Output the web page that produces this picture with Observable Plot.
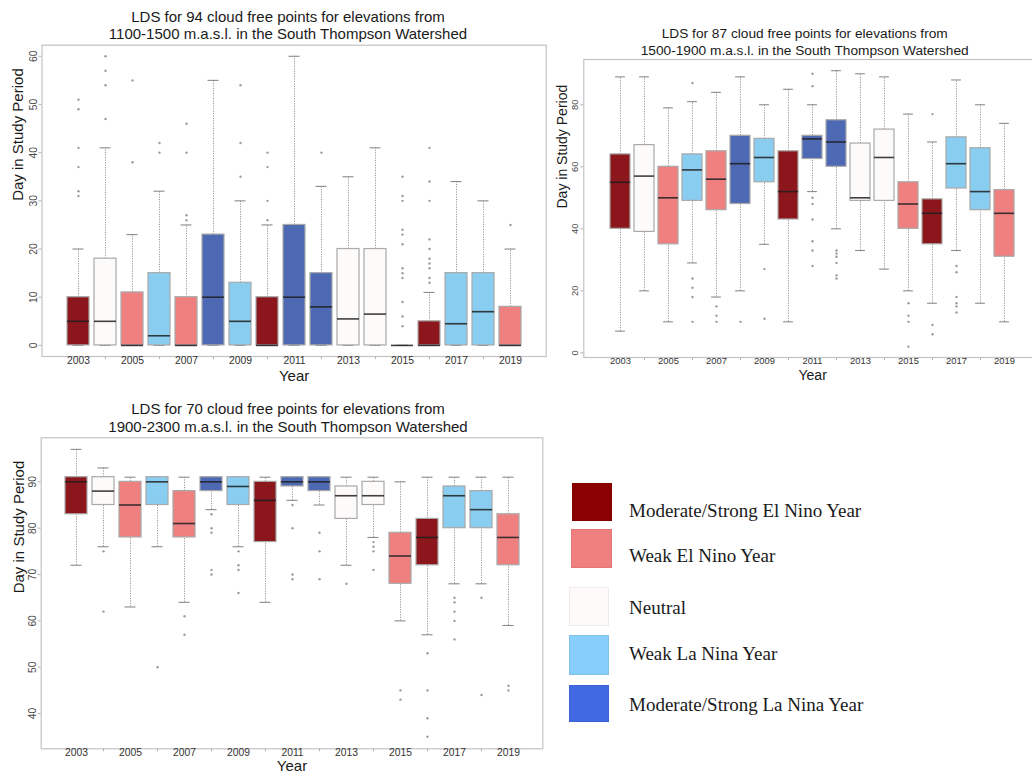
<!DOCTYPE html>
<html>
<head>
<meta charset="utf-8">
<script src="https://cdn.jsdelivr.net/npm/d3@7"></script>
<script src="https://cdn.jsdelivr.net/npm/@observablehq/plot@0.6"></script>
<style>
  html, body { margin: 0; padding: 0; background: #fff; overflow: hidden; }
  #page { position: relative; width: 1032px; height: 776px; overflow: hidden;
          font-family: "Liberation Sans", Arial, sans-serif; }
  .title { position: absolute; text-align: center; color: #1a1a1a; white-space: nowrap; }
  .panel { position: absolute; }
  .panel svg { max-width: none; }
  .swatch { position: absolute; box-sizing: border-box; border: 1px solid rgba(0,0,0,0.06); }
  .legend-label { position: absolute; font-family: "Liberation Serif", "Times New Roman", serif;
                  font-size: 19px; line-height: 22px; color: #1a1a1a; white-space: nowrap; }
</style>
</head>
<body>
<div id="page"></div>
<script>
// Years of the study period and their ENSO classification
const years = [2003, 2004, 2005, 2006, 2007, 2008, 2009, 2010, 2011, 2012, 2013, 2014, 2015, 2016, 2017, 2018, 2019];
const oddYears = [2003, 2005, 2007, 2009, 2011, 2013, 2015, 2017, 2019];
const evenYears = [2004, 2006, 2008, 2010, 2012, 2014, 2016, 2018];
const enso = [
  "Moderate/Strong El Nino Year", "Neutral", "Weak El Nino Year", "Weak La Nina Year",
  "Weak El Nino Year", "Moderate/Strong La Nina Year", "Weak La Nina Year", "Moderate/Strong El Nino Year",
  "Moderate/Strong La Nina Year", "Moderate/Strong La Nina Year", "Neutral", "Neutral",
  "Weak El Nino Year", "Moderate/Strong El Nino Year", "Weak La Nina Year", "Weak La Nina Year",
  "Weak El Nino Year"
];
const categories = ["Moderate/Strong El Nino Year", "Weak El Nino Year", "Neutral", "Weak La Nina Year", "Moderate/Strong La Nina Year"];
const boxColors = ["#8B161B", "#F08080", "#FDFBFA", "#89CDF1", "#4E69B3"];
const legendColors = ["#8B0000", "#F08080", "#FFFAFA", "#87CEFA", "#4169E1"];

// 1100-1500 m.a.s.l. (94 points): whisker ends, quartiles, medians, outliers
const lo1  = [0, 0, 0, 0, 0, 0, 0, 0, 0, 0, 0, 0, 0, 0, 0, 0, 0];
const q1_1 = [0, 0, 0, 0, 0, 0, 0, 0, 0, 0, 0, 0, 0, 0, 0, 0, 0];
const med1 = [5, 5, 0, 2, 0, 10, 5, 0, 10, 8, 5.5, 6.5, 0, 0, 4.5, 7, 0];
const q3_1 = [10, 18, 11, 15, 10, 23, 13, 10, 25, 15, 20, 20, 0, 5, 15, 15, 8];
const hi1  = [20, 41, 23, 32, 25, 55, 30, 25, 60, 33, 35, 41, 0, 11, 34, 30, 20];
const out1 = [
  [51, 49, 41, 37, 32, 31], [60, 57, 54, 47], [55, 38], [42, 40], [46, 40, 27, 26], [],
  [54, 42, 35], [40, 37, 30, 26], [], [40], [], [],
  [35, 31, 30, 24, 23, 21, 16, 15, 14, 9, 6, 4], [41, 34, 30, 22, 20, 18, 17, 16, 14, 13], [], [], [25]
];

// 1500-1900 m.a.s.l. (87 points)
const lo2  = [7, 20, 10, 29, 18, 20, 35, 10, 52, 40, 33, 27, 20, 16, 33, 16, 10];
const q1_2 = [40, 39, 35, 49, 46, 48, 55, 43, 62.5, 60, 49, 49, 40, 35, 53, 46, 31];
const med2 = [55, 57, 50, 59, 56, 61, 63, 52, 69, 68, 50, 63, 48, 45, 61, 52, 45];
const q3_2 = [64, 67, 60, 64, 65, 70, 69, 65, 70, 75, 67.5, 72, 55, 49.5, 69.5, 66, 52.5];
const hi2  = [89, 89, 79, 81, 84, 89, 80, 85, 80, 91, 90, 89, 77, 68, 88, 80, 74];
const out2 = [
  [], [], [], [87, 24, 21, 18, 10], [15, 12, 10], [10], [27, 11], [],
  [90, 86, 50, 48, 43, 36, 33, 28], [33, 32, 31, 29, 25, 24], [], [],
  [16, 12, 10, 2], [77, 9, 6], [28, 26, 18, 16, 15, 13], [], []
];

// 1900-2300 m.a.s.l. (70 points)
const lo3  = [72, 76, 63, 76, 64, 84, 76, 64, 86, 85, 72, 78, 60, 57, 68, 68, 59];
const q1_3 = [83, 85, 78, 85, 78, 88, 85, 77, 89, 88, 82, 85, 68, 72, 80, 80, 72];
const med3 = [90, 88, 85, 90, 81, 90, 89, 86, 90, 90, 87, 87, 74, 78, 87, 84, 78];
const q3_3 = [91, 91, 90, 91, 88, 91, 91, 90, 91, 91, 89, 90, 79, 82, 89, 88, 83];
const hi3  = [97, 93, 91, 91, 91, 91, 91, 91, 91, 91, 91, 91, 90, 91, 91, 91, 91];
const out3 = [
  [], [75, 62], [], [50], [61, 57], [83, 80, 79, 71, 70], [75, 72, 71, 66], [],
  [85, 80, 70, 69], [79, 75, 69], [68], [77, 76, 75, 71],
  [45, 43], [53, 45, 39, 35], [65, 64, 62, 60, 56], [65, 44], [46, 45]
];

const titles = [
  ["LDS for 94 cloud free points for elevations from", "1100-1500 m.a.s.l. in the South Thompson Watershed"],
  ["LDS for 87 cloud free points for elevations from", "1500-1900 m.a.s.l. in the South Thompson Watershed"],
  ["LDS for 70 cloud free points for elevations from", "1900-2300 m.a.s.l. in the South Thompson Watershed"]
];
const yTicks1 = [0, 10, 20, 30, 40, 50, 60];
const yTicks2 = [0, 20, 40, 60, 80];
const yTicks3 = [40, 50, 60, 70, 80, 90];

const page = document.getElementById("page");

function boxPanel(cfg) {
  const {lo, q1, med, q3, hi, out, yDomain, yTicks, width, height, m, padIn, padOut,
         tickFont, axisTitleFont, yTitleDx, xTitleDy} = cfg;
  const stats = years.map((year, i) => ({year, cat: enso[i], lo: lo[i], q1: q1[i], med: med[i], q3: q3[i], hi: hi[i]}));
  const pts = years.flatMap((year, i) => out[i].map(v => ({year, v})));
  const step = (width - m.left - m.right) / (years.length - padIn + 2 * padOut);
  const capInset = step * (1 - padIn) / 4;
  return Plot.plot({
    width, height,
    marginTop: m.top, marginRight: m.right, marginBottom: m.bottom, marginLeft: m.left,
    x: {type: "band", domain: years, paddingInner: padIn, paddingOuter: padOut, align: 0.5, label: null},
    y: {domain: yDomain, label: null},
    color: {domain: categories, range: boxColors},
    style: {fontFamily: "'Liberation Sans', Arial, sans-serif", fontSize: tickFont + "px", background: "transparent", overflow: "hidden"},
    marks: [
      Plot.frame({stroke: "#c2c2c2", strokeWidth: 1.2}),
      Plot.ruleX(stats, {x: "year", y1: "q3", y2: "hi", stroke: "#9a9a9a", strokeDasharray: "1.2,1.3"}),
      Plot.ruleX(stats, {x: "year", y1: "lo", y2: "q1", stroke: "#9a9a9a", strokeDasharray: "1.2,1.3"}),
      Plot.tickY(stats, {x: "year", y: "hi", stroke: "#8a8a8a", strokeWidth: 1.1, insetLeft: capInset, insetRight: capInset}),
      Plot.tickY(stats, {x: "year", y: "lo", stroke: "#8a8a8a", strokeWidth: 1.1, insetLeft: capInset, insetRight: capInset}),
      Plot.barY(stats, {x: "year", y1: "q1", y2: "q3", fill: "cat", stroke: "#a9a9a9", strokeWidth: 1.2}),
      Plot.tickY(stats, {x: "year", y: "med", stroke: "#1e1e1e", strokeWidth: 1.6, strokeOpacity: 0.85}),
      Plot.dot(pts, {x: "year", y: "v", r: 1.2, fill: "#9c9c9c"}),
      Plot.axisY({ticks: yTicks, tickSize: 3, tickPadding: 2.5, tickRotate: -90, stroke: "#b5b5b5", fill: "#4a4a4a", label: null}),
      Plot.axisX({ticks: evenYears, tickSize: 3, tickFormat: () => "", stroke: "#b5b5b5", label: null}),
      Plot.axisX({ticks: oddYears, tickSize: 0, tickPadding: 0, tickFormat: d => String(d), fill: "#333", label: null}),
      Plot.text(["Year"], {text: d => d, frameAnchor: "bottom", dy: xTitleDy, fontSize: axisTitleFont, fill: "#1a1a1a"}),
      Plot.text(["Day in Study Period"], {text: d => d, frameAnchor: "left", dx: yTitleDx, rotate: -90, fontSize: axisTitleFont, fill: "#1a1a1a"})
    ]
  });
}

function place(node, left, top, width) {
  const wrap = document.createElement("div");
  wrap.className = "panel";
  wrap.style.left = left + "px";
  wrap.style.top = top + "px";
  wrap.style.width = width + "px";
  wrap.appendChild(node);
  page.appendChild(wrap);
}

function addTitle(lines, centerX, top, size, lineHeight) {
  const t = document.createElement("div");
  t.className = "title";
  t.style.left = (centerX - 260) + "px";
  t.style.width = "520px";
  t.style.top = top + "px";
  t.style.fontSize = size + "px";
  t.style.lineHeight = lineHeight + "px";
  t.innerHTML = lines.map(s => `<div>${s}</div>`).join("");
  page.appendChild(t);
}

// Panel 1: 1100-1500 m
addTitle(titles[0], 288, 7.8, 15, 17.5);
place(boxPanel({
  lo: lo1, q1: q1_1, med: med1, q3: q3_1, hi: hi1, out: out1,
  yDomain: [-2.3, 62.3], yTicks: yTicks1, width: 550, height: 350,
  m: {top: 4.7, right: 4.3, bottom: 34, left: 41.5}, padIn: 0.2, padOut: 0.78,
  tickFont: 10.3, axisTitleFont: 15, yTitleDx: -23.5, xTitleDy: 24
}), 0, 40, 550);

// Panel 2: 1500-1900 m
addTitle(titles[1], 804.7, 25, 13.7, 17);
place(boxPanel({
  lo: lo2, q1: q1_2, med: med2, q3: q3_2, hi: hi2, out: out2,
  yDomain: [-1.5, 94.6], yTicks: yTicks2, width: 495, height: 333,
  m: {top: 2, right: 4, bottom: 33, left: 33.3}, padIn: 0.18, padOut: 0.78,
  tickFont: 9.4, axisTitleFont: 14, yTitleDx: -21.3, xTitleDy: 22.5
}), 550, 57, 495);

// Panel 3: 1900-2300 m
addTitle(titles[2], 288, 400.1, 15, 17.7);
place(boxPanel({
  lo: lo3, q1: q1_3, med: med3, q3: q3_3, hi: hi3, out: out3,
  yDomain: [32.4, 99.5], yTicks: yTicks3, width: 550, height: 342,
  m: {top: 3.3, right: 7.7, bottom: 27.7, left: 40.7}, padIn: 0.2, padOut: 0.74,
  tickFont: 10.3, axisTitleFont: 15, yTitleDx: -22.2, xTitleDy: 22.5
}), 0, 434, 550);

// ENSO legend
const swatches = [
  {x: 571.7, y: 483.3, w: 40, h: 38, ty: 511},
  {x: 570.7, y: 529.3, w: 41, h: 39, ty: 556},
  {x: 569, y: 586.7, w: 40, h: 39.3, ty: 608.3},
  {x: 569, y: 635, w: 40, h: 40, ty: 654},
  {x: 569, y: 685, w: 40, h: 37, ty: 705}
];
categories.forEach((cat, i) => {
  const s = swatches[i];
  const sq = document.createElement("div");
  sq.className = "swatch";
  Object.assign(sq.style, {left: s.x + "px", top: s.y + "px", width: s.w + "px", height: s.h + "px", background: legendColors[i]});
  page.appendChild(sq);
  const lab = document.createElement("div");
  lab.className = "legend-label";
  lab.style.left = "629px";
  lab.style.top = (s.ty - 11) + "px";
  lab.textContent = cat;
  page.appendChild(lab);
});
</script>
</body>
</html>
